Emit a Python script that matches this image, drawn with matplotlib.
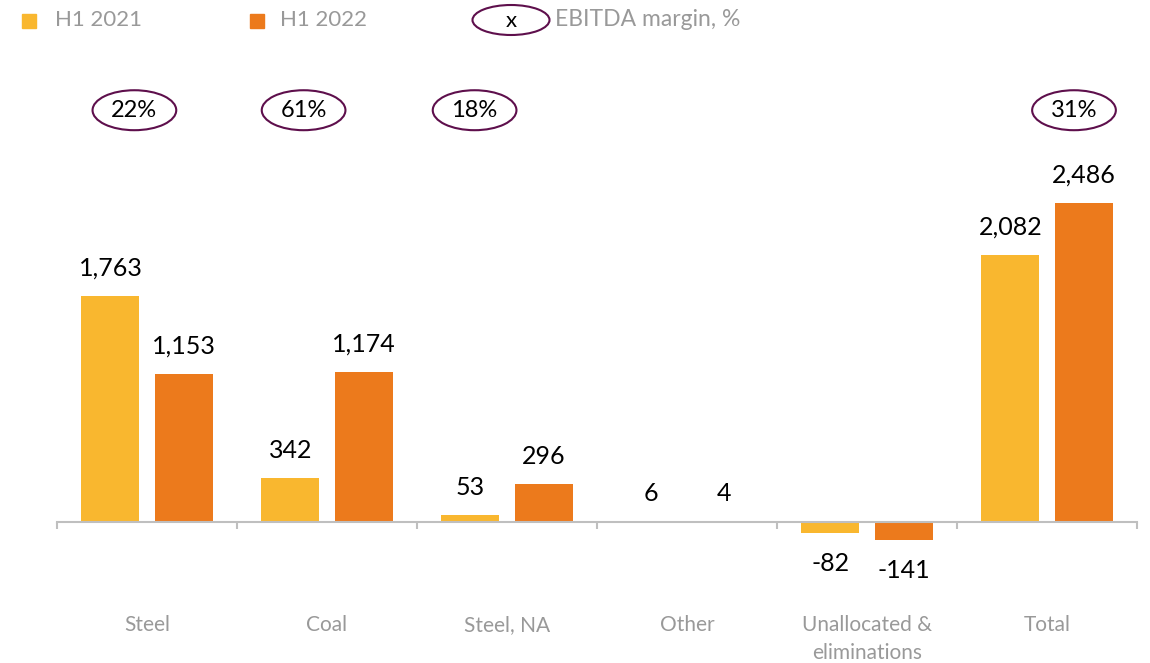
import matplotlib.pyplot as plt
import numpy as np
from matplotlib.patches import Ellipse, Rectangle
from matplotlib.transforms import blended_transform_factory

categories = ["Steel", "Coal", "Steel, NA", "Other", "Unallocated &\neliminations", "Total"]
h1_2021 = [1763, 342, 53, 6, -82, 2082]
h1_2022 = [1153, 1174, 296, 4, -141, 2486]
margins = ["22%", "61%", "18%", None, None, "31%"]
margin_shift = [-0.07, -0.13, -0.18, 0, 0, 0.15]

c21 = "#F9B72F"
c22 = "#EC7A1C"
purple = "#5E0F4C"
grey_txt = "#999999"
axis_grey = "#BFBFBF"

plt.rcParams['font.family'] = ['Lato', 'DejaVu Sans']

fig = plt.figure(figsize=(11.5, 6.63), dpi=100)
ax = fig.add_axes([57 / 1150, 63 / 663, 1080 / 1150, 540 / 663])

x = np.arange(len(categories))
w = 0.322
off = 0.203
b1 = ax.bar(x - off, h1_2021, w, color=c21)
b2 = ax.bar(x + off, h1_2022, w, color=c22)

ax.set_xlim(-0.5, len(categories) - 0.5)
ax.set_ylim(-608, 3604)

for bars, vals in ((b1, h1_2021), (b2, h1_2022)):
    for b, v in zip(bars, vals):
        cx = b.get_x() + b.get_width() / 2
        dy = 20 if v >= 0 else -22
        ax.annotate(f"{v:,}", (cx, v), xytext=(0, dy), textcoords="offset points",
                    ha="center", va="center", fontsize=18, color="black")

for s in ["top", "right", "left"]:
    ax.spines[s].set_visible(False)
ax.spines["bottom"].set_position(("data", 0))
ax.spines["bottom"].set_color(axis_grey)
ax.spines["bottom"].set_linewidth(1.5)
ax.set_yticks([])
ax.set_xticks(x)
ax.set_xticklabels([])
ax.tick_params(axis="x", which="major", length=0)
ax.set_xticks(np.arange(-0.5, len(categories)), minor=True)
ax.tick_params(axis="x", which="minor", length=5, width=1.5, color=axis_grey, direction="out")

trans = blended_transform_factory(ax.transData, ax.transAxes)
for i, lab in enumerate(categories):
    ax.text(i, (600 - 615) / 540, lab, transform=trans, ha="center", va="top",
            fontsize=15, color=grey_txt, linespacing=1.5)

for i, m in enumerate(margins):
    if m is None:
        continue
    cx = i + margin_shift[i]
    ax.add_patch(Ellipse((cx, 0.907), 0.465, 0.074, transform=trans, fill=False,
                         edgecolor=purple, linewidth=1.5, clip_on=False))
    ax.text(cx, 0.907, m, transform=trans, ha="center", va="center", fontsize=17, color="black")

# legend
fig.patches.append(Rectangle((22 / 1150, 1 - 28 / 663), 14 / 1150, 14 / 663,
                             transform=fig.transFigure, color=c21))
fig.text(55 / 1150, 1 - 20 / 663, "H1 2021", ha="left", va="center", fontsize=16,
         color=grey_txt)
fig.patches.append(Rectangle((250 / 1150, 1 - 28 / 663), 14 / 1150, 14 / 663,
                             transform=fig.transFigure, color=c22))
fig.text(280 / 1150, 1 - 20 / 663, "H1 2022", ha="left", va="center", fontsize=16,
         color=grey_txt)
fig.patches.append(Ellipse((511 / 1150, 1 - 20 / 663), 77 / 1150, 30 / 663,
                           transform=fig.transFigure, fill=False, edgecolor=purple, linewidth=1.5))
fig.text(511 / 1150, 1 - 21 / 663, "x", ha="center", va="center", fontsize=16, color="black")
fig.text(555 / 1150, 1 - 20 / 663, "EBITDA margin, %", ha="left", va="center", fontsize=16.5,
         color=grey_txt)

fig.savefig("out.png", dpi=100)
